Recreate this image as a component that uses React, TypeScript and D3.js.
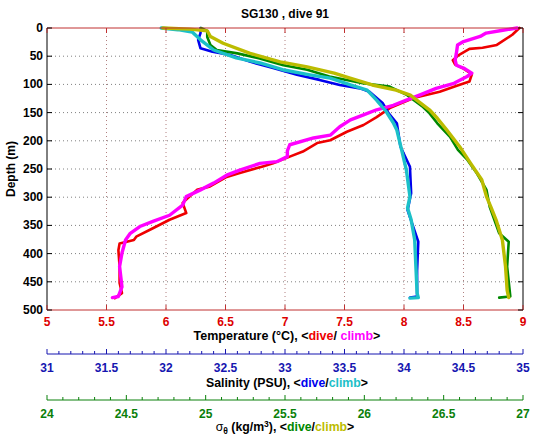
import React from 'react';
import * as d3 from 'd3';

// ---- data (value, depth in m) ----
const tempDiveT = [8.97, 8.91, 8.78, 8.66, 8.55, 8.46, 8.41, 8.43, 8.50, 8.57, 8.55, 8.45, 8.30, 8.08, 7.88, 7.77, 7.66, 7.52, 7.38, 7.27, 7.15, 7.04, 6.90, 6.82, 6.62, 6.51, 6.37, 6.26, 6.14, 6.17, 6.03, 5.89, 5.75, 5.73, 5.61, 5.60, 5.61, 5.61, 5.63, 5.57];
const tempDiveZ = [0, 12, 30, 35, 37, 48, 57, 65, 72, 82, 95, 102, 113, 124, 142, 158, 172, 184, 199, 204, 219, 228, 240, 245, 257, 264, 281, 287, 310, 328, 340, 355, 370, 376, 382, 394, 423, 452, 470, 479];
const tempClimbT = [8.95, 8.83, 8.69, 8.64, 8.50, 8.45, 8.44, 8.43, 8.44, 8.50, 8.57, 8.53, 8.42, 8.27, 8.13, 8.02, 7.91, 7.77, 7.66, 7.55, 7.46, 7.38, 7.24, 7.04, 7.02, 7.02, 6.93, 6.79, 6.62, 6.51, 6.40, 6.29, 6.17, 6.14, 6.03, 5.89, 5.78, 5.70, 5.66, 5.63, 5.61, 5.63, 5.60, 5.55];
const tempClimbZ = [0, 4, 9, 15, 24, 30, 45, 57, 66, 71, 80, 86, 98, 107, 119, 128, 137, 145, 154, 163, 175, 190, 195, 207, 218, 228, 237, 240, 252, 261, 275, 287, 299, 314, 332, 343, 352, 364, 376, 399, 423, 459, 476, 478];

const salDiveS = [32.29, 32.29, 32.27, 32.29, 32.39, 32.54, 32.71, 32.90, 33.10, 33.29, 33.46, 33.63, 33.71, 33.82, 33.87, 33.94, 33.97, 34.05, 34.06, 34.03, 34.12, 34.11, 34.11, 34.05];
const salDiveZ = [0, 9, 21, 36, 42, 48, 60, 71, 83, 92, 101, 107, 113, 133, 151, 169, 210, 246, 293, 323, 379, 430, 476, 478];
const salClimbS = [31.96, 32.10, 32.22, 32.29, 32.40, 32.59, 32.79, 32.98, 33.21, 33.38, 33.55, 33.69, 33.77, 33.85, 33.91, 33.94, 33.98, 34.02, 34.05, 34.03, 34.06, 34.09, 34.10, 34.11, 34.12, 34.05];
const salClimbZ = [0, 3, 7, 21, 39, 53, 62, 74, 83, 89, 101, 110, 128, 148, 168, 181, 216, 252, 299, 319, 340, 376, 423, 470, 478, 479];

const sigDiveD = [24.97, 25.01, 25.01, 25.03, 25.07, 25.20, 25.34, 25.49, 25.64, 25.78, 25.99, 26.16, 26.27, 26.37, 26.41, 26.46, 26.54, 26.59, 26.65, 26.71, 26.77, 26.79, 26.85, 26.91, 26.90, 26.92, 26.85];
const sigDiveZ = [0, 5, 16, 30, 39, 45, 54, 66, 74, 86, 98, 104, 119, 140, 151, 169, 193, 216, 234, 258, 287, 317, 364, 379, 423, 476, 478];
const sigClimbD = [24.73, 24.90, 25.01, 25.03, 25.11, 25.28, 25.47, 25.64, 25.81, 25.91, 26.05, 26.20, 26.29, 26.33, 26.41, 26.46, 26.52, 26.60, 26.67, 26.74, 26.77, 26.80, 26.83, 26.87, 26.89, 26.90, 26.91];
const sigClimbZ = [0, 2, 5, 15, 27, 45, 60, 69, 80, 89, 101, 110, 119, 128, 145, 160, 181, 210, 240, 269, 299, 319, 340, 376, 423, 465, 478];

const depthTicks = [0, 50, 100, 150, 200, 250, 300, 350, 400, 450, 500];
const tempTicks = [5, 5.5, 6, 6.5, 7, 7.5, 8, 8.5, 9];
const salTicks = [31, 31.5, 32, 32.5, 33, 33.5, 34, 34.5, 35];
const sigTicks = [24, 24.5, 25, 25.5, 26, 26.5, 27];

const FONT = '"Liberation Sans", Arial, Helvetica, sans-serif';
const RED = '#dd0000';
const BLUE = '#1515b0';
const GREEN = '#0a800a';

export default function App() {
  const x0 = 47, x1 = 523, y0 = 28, y1 = 310;
  const xT = d3.scaleLinear().domain([5, 9]).range([x0, x1]);
  const xS = d3.scaleLinear().domain([31, 35]).range([x0, x1]);
  const xD = d3.scaleLinear().domain([24, 27]).range([x0, x1]);
  const y = d3.scaleLinear().domain([0, 500]).range([y0, y1]);

  const mk = (xs: d3.ScaleLinear<number, number>, vals: number[], z: number[]) =>
    d3.line<[number, number]>().x(d => xs(d[0])).y(d => y(d[1]))(vals.map((v, i) => [v, z[i]] as [number, number])) || '';

  const salMinor = d3.range(31, 35.0001, 0.1);
  const sigMinor = d3.range(24, 27.0001, 0.1);

  const series = [
    { p: mk(xT, tempDiveT, tempDiveZ), c: '#ee0000', w: 2.6 },
    { p: mk(xS, salDiveS, salDiveZ), c: '#0000ee', w: 2.6 },
    { p: mk(xD, sigDiveD, sigDiveZ), c: '#008800', w: 2.6 },
    { p: mk(xT, tempClimbT, tempClimbZ), c: '#ff00ff', w: 3.4 },
    { p: mk(xS, salClimbS, salClimbZ), c: '#1cc0c8', w: 3.4 },
    { p: mk(xD, sigClimbD, sigClimbZ), c: '#bcbc00', w: 3.4 },
  ];

  return (
    <svg width={535} height={442} style={{ position: 'absolute', left: 0, top: 0, background: '#fff' }} fontFamily={FONT} fontWeight="bold">
      <rect x={0} y={0} width={535} height={442} fill="#fff" />
      <text x={285} y={18} textAnchor="middle" fontSize={12}>SG130 , dive 91</text>

      {/* grid */}
      {tempTicks.slice(1, -1).map(t => (
        <line key={'gv' + t} x1={xT(t)} x2={xT(t)} y1={y0} y2={y1} stroke="#b08080" strokeWidth={1} strokeDasharray="1,3" />
      ))}
      {depthTicks.slice(1, -1).map(d => (
        <line key={'gh' + d} x1={x0} x2={x1} y1={y(d)} y2={y(d)} stroke="#808080" strokeWidth={1} strokeDasharray="1,3" />
      ))}

      {/* data */}
      {series.map((s, i) => (
        <path key={i} d={s.p} fill="none" stroke={s.c} strokeWidth={s.w} strokeLinejoin="round" strokeLinecap="round" />
      ))}

      {/* box */}
      <line x1={x0} x2={x0} y1={y0} y2={y1} stroke="#000" />
      <line x1={x1} x2={x1} y1={y0} y2={y1} stroke="#000" />
      <line x1={x0} x2={x1} y1={y0} y2={y0} stroke="#c03030" />
      <line x1={x0} x2={x1} y1={y1} y2={y1} stroke="#c03030" />

      {/* temperature ticks */}
      {tempTicks.map(t => (
        <g key={'tt' + t}>
          <line x1={xT(t)} x2={xT(t)} y1={y0} y2={y0 + 5} stroke="#c03030" />
          <line x1={xT(t)} x2={xT(t)} y1={y1} y2={y1 - 5} stroke="#c03030" />
          <text x={xT(t)} y={326} textAnchor="middle" fontSize={12} fill={RED}>{t}</text>
        </g>
      ))}
      {/* depth ticks */}
      {depthTicks.map(d => (
        <g key={'dt' + d}>
          <line x1={x0} x2={x0 + 5} y1={y(d)} y2={y(d)} stroke="#000" />
          <line x1={x1} x2={x1 - 5} y1={y(d)} y2={y(d)} stroke="#000" />
          <text x={43} y={y(d) + 4} textAnchor="end" fontSize={12} fill="#000">{d}</text>
        </g>
      ))}
      <text transform={`translate(15,${(y0 + y1) / 2}) rotate(-90)`} textAnchor="middle" fontSize={12}>Depth (m)</text>
      <text x={287} y={340} textAnchor="middle" fontSize={12.5}>
        Temperature (°C), &lt;<tspan fill="#ee0000">dive</tspan>/ <tspan fill="#ff00ff">climb</tspan>&gt;
      </text>

      {/* salinity axis */}
      <line x1={x0} x2={x1} y1={354} y2={354} stroke={BLUE} />
      {salMinor.map((s, i) => (
        <line key={'sm' + i} x1={xS(s)} x2={xS(s)} y1={354} y2={i % 5 === 0 ? 349 : 351} stroke={BLUE} />
      ))}
      {salTicks.map(s => (
        <text key={'sl' + s} x={xS(s)} y={372} textAnchor="middle" fontSize={12} fill={BLUE}>{s}</text>
      ))}
      <text x={287} y={387} textAnchor="middle" fontSize={12.3}>
        Salinity (PSU), &lt;<tspan fill="#0000ee">dive</tspan>/<tspan fill="#1cc0c8">climb</tspan>&gt;
      </text>

      {/* sigma axis */}
      <line x1={x0} x2={x1} y1={400} y2={400} stroke={GREEN} />
      {sigMinor.map((s, i) => (
        <line key={'gm' + i} x1={xD(s)} x2={xD(s)} y1={400} y2={i % 5 === 0 ? 395 : 397} stroke={GREEN} />
      ))}
      {sigTicks.map(s => (
        <text key={'gl' + s} x={xD(s)} y={418} textAnchor="middle" fontSize={12} fill={GREEN}>{s}</text>
      ))}
      <text x={285} y={431} textAnchor="middle" fontSize={12.3}>
        <tspan fontWeight="normal">σ</tspan><tspan fontSize={8.5} dy={3}>θ</tspan><tspan dy={-3}> (kg/m</tspan><tspan fontSize={8.5} dy={-4}>3</tspan><tspan dy={4}>), &lt;</tspan><tspan fill="#008800">dive</tspan>/<tspan fill="#bcbc00">climb</tspan>&gt;
      </text>
    </svg>
  );
}
